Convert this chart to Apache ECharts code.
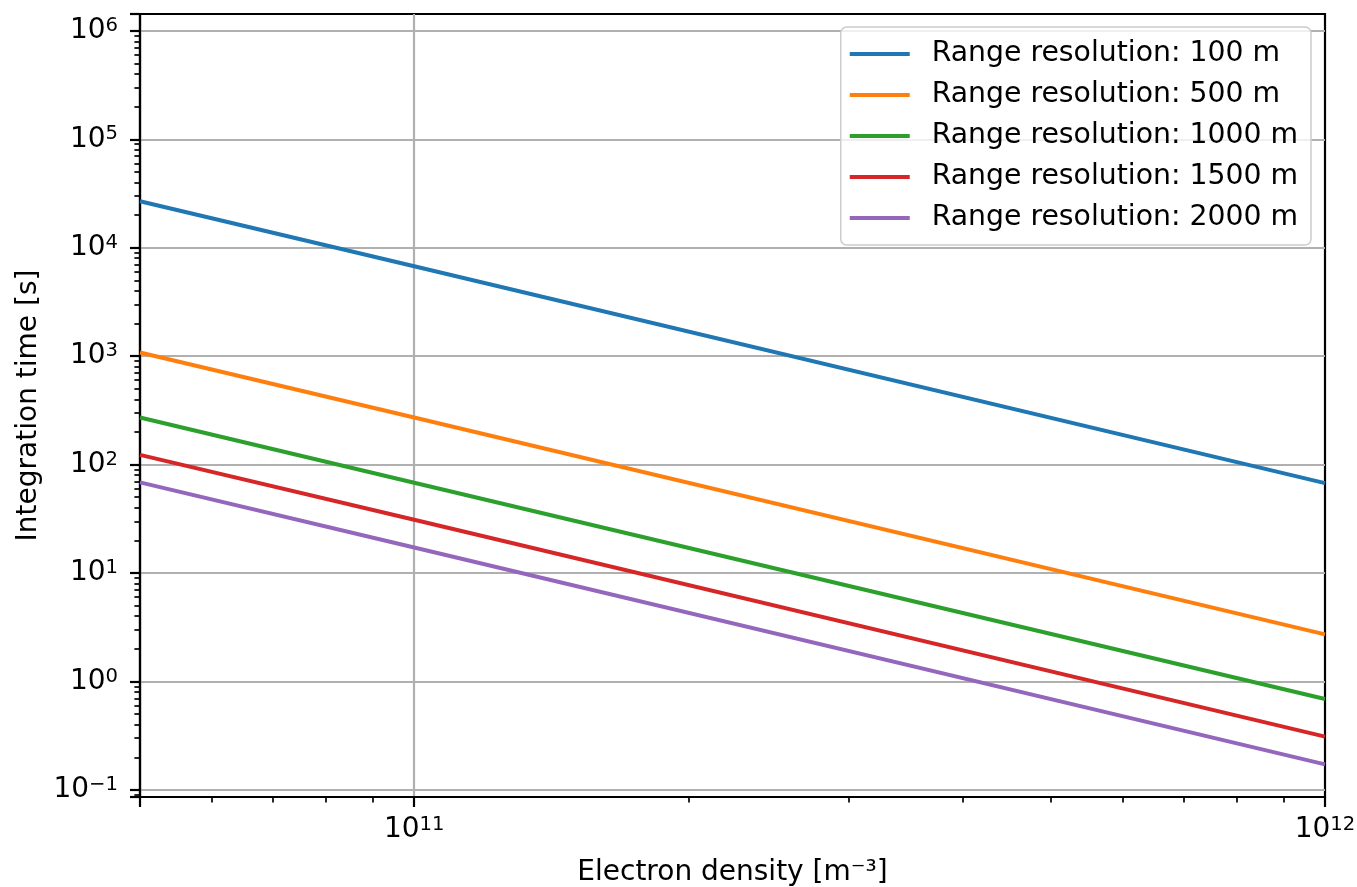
<!DOCTYPE html>
<html>
<head>
<meta charset="utf-8">
<script src="https://cdn.jsdelivr.net/npm/echarts@6/dist/echarts.min.js"></script>
<style>
	html, body { margin: 0; padding: 0; background: #fff; }
	#main { width: 1357px; height: 887px; }
</style>
</head>
<body>
<div id="main"></div>
<script>
// electron density [m^-3]
const density = [5e10, 1e11, 1e12];
const names = ['Range resolution: 100 m', 'Range resolution: 500 m', 'Range resolution: 1000 m', 'Range resolution: 1500 m', 'Range resolution: 2000 m'];
const colors = ['#1f77b4', '#ff7f0e', '#2ca02c', '#d62728', '#9467bd'];
// integration time [s]
const res100 = [26800, 6750, 67.5];
const res500 = [1080, 272, 2.72];
const res1000 = [272, 68, 0.69];
const res1500 = [123, 31, 0.31];
const res2000 = [68.5, 17.2, 0.172];
const values = [res100, res500, res1000, res1500, res2000];

const FONT = 'DejaVu Sans';
const SUP = {'-': '\u2212'};

function powLabel(v) {
	let e = Math.round(Math.log10(v));
	let s = String(e).split('').map(c => SUP[c] || c).join('');
	return '{b|10}{s|' + s + '}';
}
const richLabel = {
	b: { fontSize: 28, fontFamily: FONT, color: '#000', lineHeight: 30 },
	s: { fontSize: 19.6, fontFamily: FONT, color: '#000', lineHeight: 19, verticalAlign: 'top' }
};

let myChart = echarts.init(document.getElementById('main'));
let option = {
	backgroundColor: '#fff',
	animation: false,
	grid: {
		left: 140,
		right: 32,
		top: 14,
		bottom: 90,
		outerBoundsMode: 'none',
		show: true,
		borderColor: '#000',
		borderWidth: 2.2,
		backgroundColor: 'transparent'
	},
	legend: {
		orient: 'vertical',
		right: 46,
		top: 27,
		icon: 'rect',
		itemWidth: 60,
		itemHeight: 4,
		itemGap: 11,
		padding: [12, 13, 12, 9],
		backgroundColor: 'rgba(255,255,255,0.8)',
		borderColor: '#cccccc',
		borderWidth: 1.5,
		borderRadius: 6,
		textStyle: {
			fontSize: 28.3,
			fontFamily: FONT,
			color: '#000',
			lineHeight: 30,
			padding: [0, 0, 0, 17]
		},
		data: names
	},
	xAxis: {
		type: 'log',
		logBase: 10,
		min: 5e10,
		max: 1e12,
		name: 'Electron density [m\u207B\u00B3]',
		nameLocation: 'middle',
		nameGap: 62,
		nameTextStyle: { fontSize: 28, fontFamily: FONT, color: '#000' },
		axisLine: { lineStyle: { color: '#000', width: 2.2 } },
		axisTick: { show: true, inside: false, length: 10, lineStyle: { color: '#000', width: 2.2 } },
		minorTick: { show: true, splitNumber: 9, length: 5.6, lineStyle: { color: '#000', width: 1.7 } },
		axisLabel: {
			margin: 18,
			showMinLabel: false,
			formatter: powLabel,
			rich: richLabel
		},
		splitLine: { show: true, showMinLine: false, showMaxLine: false, lineStyle: { color: '#b0b0b0', width: 2.2 } }
	},
	yAxis: {
		type: 'log',
		logBase: 10,
		min: 0.086,
		max: 1.43e6,
		name: 'Integration time [s]',
		nameLocation: 'middle',
		nameGap: 95,
		nameTextStyle: { fontSize: 28, fontFamily: FONT, color: '#000' },
		axisLine: { lineStyle: { color: '#000', width: 2.2 } },
		axisTick: { show: true, inside: false, length: 10, lineStyle: { color: '#000', width: 2.2 } },
		minorTick: { show: true, splitNumber: 9, length: 5.6, lineStyle: { color: '#000', width: 1.7 } },
		axisLabel: {
			margin: 22,
			showMinLabel: false,
			showMaxLabel: false,
			formatter: powLabel,
			rich: richLabel
		},
		splitLine: { show: true, showMinLine: false, showMaxLine: false, lineStyle: { color: '#b0b0b0', width: 2.2 } }
	},
	series: names.map((n, i) => ({
		name: n,
		type: 'line',
		symbol: 'none',
		color: colors[i],
		lineStyle: { width: 4, color: colors[i] },
		data: density.map((d, j) => [d, values[i][j]])
	}))
};
myChart.setOption(option);
</script>
</body>
</html>
